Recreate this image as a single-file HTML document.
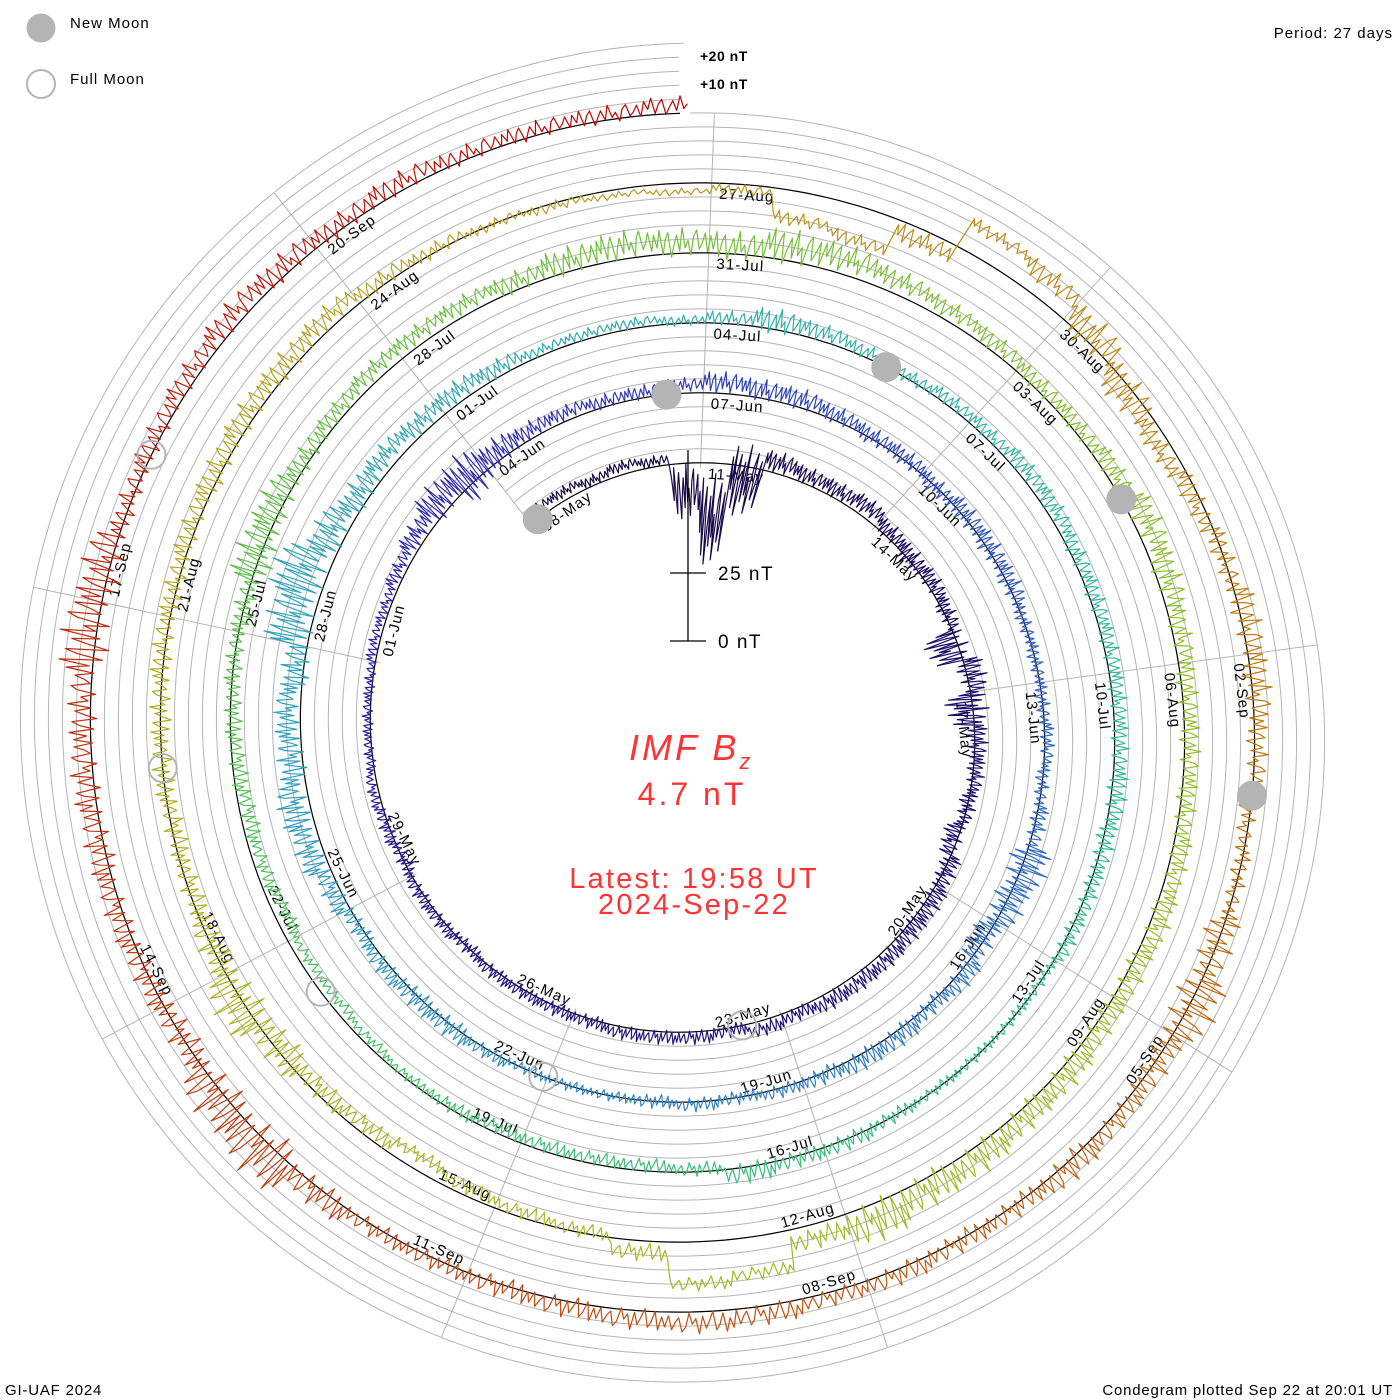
<!DOCTYPE html>
<html><head><meta charset="utf-8"><title>IMF Bz Condegram</title>
<style>
html,body{margin:0;padding:0;background:#fff;}
svg{display:block;}
text{font-family:"Liberation Sans",sans-serif;}
</style></head>
<body>
<svg id="chart" width="1400" height="1400" viewBox="0 0 1400 1400" xmlns="http://www.w3.org/2000/svg">
  <g id="grid"></g>
  <g id="spokes"></g>
  <g id="baseline"></g>
  <g id="labels"></g>
  <g id="trace"></g>
  <g id="moons"></g>

  <g stroke="#000" stroke-width="1.3">
    <line x1="688" y1="450" x2="688" y2="641"/>
    <line x1="670" y1="573" x2="706" y2="573"/>
    <line x1="670" y1="641" x2="706" y2="641"/>
  </g>
  <text x="718" y="580" font-size="19" letter-spacing="1.5" fill="#000">25 nT</text>
  <text x="718" y="648" font-size="19" letter-spacing="1.5" fill="#000">0 nT</text>

  <text x="700" y="61" font-size="14" font-weight="bold" letter-spacing="0.5" fill="#000">+20 nT</text>
  <text x="700" y="89" font-size="14" font-weight="bold" letter-spacing="0.5" fill="#000">+10 nT</text>

  <circle cx="41" cy="28" r="14.5" fill="#b4b4b4"/>
  <text x="70" y="28" font-size="15" letter-spacing="1" fill="#000">New Moon</text>
  <circle cx="41" cy="84" r="14" fill="none" stroke="#b4b4b4" stroke-width="2"/>
  <text x="70" y="84" font-size="15" letter-spacing="1" fill="#000">Full Moon</text>
  <text x="1393" y="38" font-size="15" letter-spacing="1" text-anchor="end" fill="#000">Period: 27 days</text>
  <text x="5" y="1395" font-size="15" letter-spacing="0.8" fill="#000">GI-UAF 2024</text>
  <text x="1393" y="1395" font-size="15" letter-spacing="0.8" text-anchor="end" fill="#000">Condegram plotted Sep 22 at 20:01 UT</text>

  <text x="629" y="760" font-family="Liberation Serif, serif" font-style="italic" font-size="36" letter-spacing="3" fill="#ff3333">IMF B<tspan font-size="22" dy="9">z</tspan></text>
  <text x="692" y="805" font-size="32" letter-spacing="3" text-anchor="middle" fill="#ff3333">4.7 nT</text>
  <text x="694" y="888" font-size="29" letter-spacing="2.2" text-anchor="middle" fill="#ff3333">Latest: 19:58 UT</text>
  <text x="694" y="914" font-size="29" letter-spacing="2.2" text-anchor="middle" fill="#ff3333">2024-Sep-22</text>
</svg>
<script>
// ---- data (t in days since 2024-05-08 00 UT), two values per day ----
const bzMean = [
3,3, 2,3, 2,-10, -20,-5, 4,3, 3,4, 2,1, 2,1, -4,2, -2,1, 1,0, -2,1, 2,2, 3,3, 3,2, 3,1, 2,2, 2,1, 1,1, 1,0, 1,1, 0,1, 2,1, 1,1,
2,2, 3,4, 5,3, 3,3, 3,2, 2,3, 4,3, 3,2, 1,1, 0,1, 1,1, 0,0, 0,1, 0,1, 2,1, -1,2, 1,2, 2,1, 1,0, 1,0, 0,0, 0,1, 1,1, 2,1, 3,5, 6,4, 5,3, 8,10, 6,4, 5,4,
4,3, 2,2, 2,1, 2,3, 3,2, 1,2, 2,3, 3,2, 2,2, 2,2, 2,1, 1,1, 0,0, 0,0, 0,1, 1,2, -1,-2, -2,-2, -2,-1, -1,-2, -3,-3, -4,-3, -3,-2, -1,0, 0,2, 3,2, 3,4, 4,4, 3,4, 5,4, 3,5,
6,5, 4,3, 2,2, 3,5, 4,3, 2,2, 2,3, 3,2, 2,3, 3,4, 4,6, 5,13, 15,4, -1,-2, -3,-5, -3,-2, -1,2, 0,-1, -1,0, 0,1, 1,2, 2,3, 3,4, 2,1, 0,-1, -2,-3, -2,-10, -12,-4, 10,8, 3,-2, -4,-2,
0,2, 2,1, -1,0, 0,2, 1,2, 2,1, 1,2, 2,3, 4,3, 2,1, 1,1, 2,4, 3,0, 1,2, 2,3, 3,4, 3,1, 2,3, 4,3, 2,3, 2,2, 2,3
];
const bzAmp = [
3,3, 3,3, 3,15, 25,20, 6,5, 5,5, 5,6, 5,5, 12,8, 12,6, 5,5, 6,6, 6,6, 5,5, 5,4, 4,4, 4,4, 4,4, 4,4, 4,4, 4,4, 4,4, 3,3, 3,3,
3,3, 4,6, 10,14, 8,5, 4,4, 4,4, 6,6, 6,5, 5,5, 5,6, 6,6, 4,4, 4,4, 4,5, 12,10, 8,6, 5,6, 6,5, 4,4, 4,4, 3,3, 3,4, 6,6, 5,5, 6,8, 9,8, 7,8, 14,16, 10,8, 6,6,
6,5, 3,3, 3,3, 4,7, 5,4, 4,4, 4,5, 5,5, 5,5, 5,5, 6,6, 5,5, 3,3, 3,3, 4,5, 5,6, 4,4, 4,4, 4,4, 3,3, 3,3, 4,4, 5,5, 5,5, 6,12, 10,6, 5,5, 5,5, 6,8, 8,8, 8,10,
8,6, 5,5, 5,5, 6,8, 8,6, 6,6, 6,6, 7,7, 7,8, 8,9, 10,12, 6,4, 4,5, 4,4, 4,4, 5,6, 10,14, 8,6, 6,6, 6,6, 6,6, 7,7, 7,6, 5,4, 3,3, 2,2, 3,4, 4,6, 4,6, 10,10, 6,6,
6,8, 8,6, 5,5, 10,14, 8,6, 8,6, 6,6, 5,6, 6,6, 6,6, 5,5, 8,16, 14,8, 7,7, 8,8, 8,14, 12,6, 6,6, 7,7, 6,6, 5,5, 5,5
];
const newMoons = [0.14, 29.53, 58.96, 88.47, 118.08];
const fullMoons = [15.58, 45.05, 74.43, 103.77, 133.11];
const monthNames = ["Jan","Feb","Mar","Apr","May","Jun","Jul","Aug","Sep","Oct","Nov","Dec"];

// ---- geometry ----
const NS = "http://www.w3.org/2000/svg";
const cx = 690, cy = 730, NOW = 137.83, PERIOD = 27, R_END = 617, PITCH = 70, PXNT = 2.8;
function rBase(t){ return R_END - PITCH*(NOW - t)/PERIOD; }
function ang(t){ return 2*Math.PI*(t - NOW)/PERIOD; }
function pos(t, dev){
  const a = ang(t), r = rBase(t) + dev*PXNT;
  return [cx + r*Math.sin(a), cy - r*Math.cos(a)];
}
function mk(tag, parent){ const e = document.createElementNS(NS, tag); parent.appendChild(e); return e; }

const cStops = [[0,"#150a3a"],[0.05,"#1c0c62"],[0.15,"#28188e"],[0.2,"#3030b8"],[0.28,"#3070c8"],[0.36,"#30a0c0"],[0.45,"#30b8a0"],[0.52,"#38c070"],[0.58,"#62c040"],[0.66,"#92c028"],[0.72,"#aab820"],[0.79,"#b8a020"],[0.84,"#c08010"],[0.9,"#c05010"],[0.95,"#c03010"],[1,"#c00000"]];
function hex(h){ return [parseInt(h.substr(1,2),16),parseInt(h.substr(3,2),16),parseInt(h.substr(5,2),16)]; }
function colorAt(f){
  for (let i=1;i<cStops.length;i++){
    if (f <= cStops[i][0]){
      const a=cStops[i-1], b=cStops[i], u=(f-a[0])/(b[0]-a[0]);
      const A=hex(a[1]), B=hex(b[1]);
      return "rgb("+A.map((v,k)=>Math.round(v+(B[k]-v)*u)).join(",")+")";
    }
  }
  return cStops[cStops.length-1][1];
}

// ---- grid spirals ----
const grid = document.getElementById("grid");
function spiralPath(t0, t1, off){
  let d = "";
  for (let t=t0; t<=t1+1e-6; t+=0.08){
    const p = pos(Math.min(t,t1), off);
    d += (d ? "L" : "M") + p[0].toFixed(1) + "," + p[1].toFixed(1);
  }
  return d;
}
for (let k=0;k<=5;k++){
  const g = mk("path", grid);
  
  
  const t0 = k===5 ? NOW - PERIOD : 0;
  g.setAttribute("d", spiralPath(t0, NOW, k*5));
  g.setAttribute("fill","none");
  g.setAttribute("stroke","#b4b4b4");
  g.setAttribute("stroke-width","1");
}

// ---- spokes ----
const spokes = document.getElementById("spokes");
for (let k=0;k<9;k++){
  const t = 138 - 3*k;
  const a = ang(t);
  const rIn = rBase(((t % PERIOD)+PERIOD)%PERIOD) - 5;
  let tOut = t; while (tOut + PERIOD <= NOW) tOut += PERIOD; while (tOut > NOW) tOut -= PERIOD;
  const rOut = rBase(tOut) + 70;
  const l = mk("line", spokes);
  
  
  l.setAttribute("x1", cx + rIn*Math.sin(a)); l.setAttribute("y1", cy - rIn*Math.cos(a));
  l.setAttribute("x2", cx + rOut*Math.sin(a)); l.setAttribute("y2", cy - rOut*Math.cos(a));
  l.setAttribute("stroke","#b4b4b4"); l.setAttribute("stroke-width","1");
}

// ---- baseline ----
const base = document.getElementById("baseline");
const bp = mk("path", base);


bp.setAttribute("d", spiralPath(0, NOW, 0));
bp.setAttribute("fill","none"); bp.setAttribute("stroke","#000"); bp.setAttribute("stroke-width","1.2");

// ---- date labels ----
const labels = document.getElementById("labels");
for (let t = 135; t >= 0; t -= 3){
  const d = new Date(Date.UTC(2024,4,8) + t*86400000);
  const txt = String(d.getUTCDate()).padStart(2,"0") + "-" + monthNames[d.getUTCMonth()];
  const rb = rBase(t) - 5;
  const a = ang(t) + 8/rb;
  let deg = ((a*180/Math.PI)%360+360)%360;
  const flip = deg > 90 && deg < 270;
  const x = cx + rb*Math.sin(a), y = cy - rb*Math.cos(a);
  const e = mk("text", labels);
  
  
  e.textContent = txt;
  e.setAttribute("x", 0); e.setAttribute("y", 0);
  e.setAttribute("font-size","15"); e.setAttribute("letter-spacing","1.2");
  e.setAttribute("fill","#000");
  if (flip){
    e.setAttribute("text-anchor","end");
    e.setAttribute("transform","translate("+x.toFixed(1)+","+y.toFixed(1)+") rotate("+(deg-180).toFixed(2)+")");
  } else {
    e.setAttribute("dominant-baseline","hanging");
    e.setAttribute("transform","translate("+x.toFixed(1)+","+y.toFixed(1)+") rotate("+deg.toFixed(2)+")");
  }
}

// ---- trace ----
const trace = document.getElementById("trace");
const pat = [0.6,-0.3,0.9,-0.8,0.2,0.7,-1,-0.2,0.5,-0.6,1,-0.4,0.1,-0.9,0.4,0.8,-0.5,-0.1,0.6,-0.7];
const AMP_SCALE = 0.65;
let last = null;
for (let i=0;i<bzMean.length;i++){
  const t0 = i*0.5;
  if (t0 >= NOW) break;
  let d = last ? "M"+last[0].toFixed(1)+","+last[1].toFixed(1) : "";
  for (let j=0;j<pat.length;j++){
    const t = t0 + (j+0.5)*0.5/pat.length;
    if (t > NOW) break;
    const p = pos(t, bzMean[i] + AMP_SCALE*bzAmp[i]*pat[j]);
    d += (d ? "L" : "M") + p[0].toFixed(1) + "," + p[1].toFixed(1);
    last = p;
  }
  const s = mk("path", trace);
  
  
  s.setAttribute("d", d);
  s.setAttribute("fill","none");
  s.setAttribute("stroke", colorAt((t0+0.25)/NOW));
  s.setAttribute("stroke-width","1.2");
  s.setAttribute("stroke-linejoin","round");
}

// ---- moons ----
const moons = document.getElementById("moons");
newMoons.forEach(t => {
  const p = pos(t, 0);
  const c = mk("circle", moons);
  
  
  c.setAttribute("cx", p[0].toFixed(1)); c.setAttribute("cy", p[1].toFixed(1)); c.setAttribute("r","15");
  c.setAttribute("fill","#b4b4b4");
});
fullMoons.forEach(t => {
  const p = pos(t, 0);
  const c = mk("circle", moons);
  
  
  c.setAttribute("cx", p[0].toFixed(1)); c.setAttribute("cy", p[1].toFixed(1)); c.setAttribute("r","14");
  c.setAttribute("fill","none"); c.setAttribute("stroke","#b4b4b4"); c.setAttribute("stroke-width","2");
});
</script>
</body></html>
